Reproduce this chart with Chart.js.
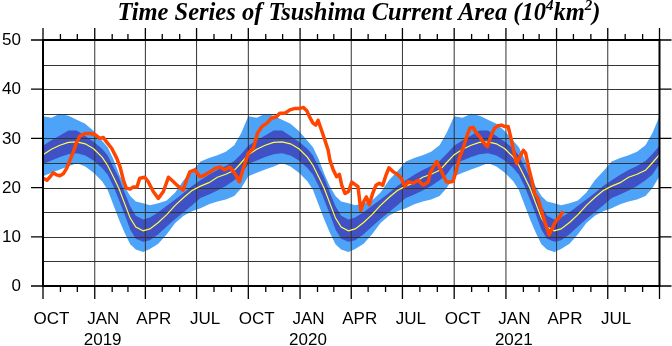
<!DOCTYPE html>
<html><head><meta charset="utf-8">
<script src="https://cdn.jsdelivr.net/npm/chart.js@4/dist/chart.umd.min.js"></script>
<style>html,body{margin:0;padding:0;background:#fff;}#wrap{width:672px;height:346px;}</style>
</head><body><div id="wrap"><canvas id="c" width="672" height="346"></canvas></div>
<script>
// ---- data ----
const startDate = '2018-10-01';
const endDate = '2021-10-01';
// climatology (days after Oct 1), repeated for each year shown
const climYearStarts = ['2018-10-01', '2019-10-01', '2020-10-01'];
const climDays    = [0,15,30,45,60,75,90,105,115,125,135,145,155,165,178,190,205,220,235,250,265,280,295,310,325,340,352];
const climMean    = [26.7,27.8,28.6,29.2,29.3,28.9,27.9,26.2,24.5,22.2,19.8,16.8,13.8,12.0,11.2,11.6,12.9,14.5,16.4,18.0,19.4,20.3,21.0,22.1,22.7,23.5,25.0];
const climDarkLo  = [24.8,25.5,26.2,26.8,27.0,26.5,25.5,24.0,22.6,20.3,17.5,14.6,11.5,9.6,9.0,9.3,10.5,12.1,13.6,15.0,16.4,17.9,18.6,19.4,20.3,21.5,22.6];
const climDarkHi  = [28.5,29.6,30.6,31.6,31.6,30.5,29.3,27.9,26.5,24.2,22.0,19.0,16.2,14.3,13.5,13.9,15.0,16.3,17.6,18.9,20.3,21.5,22.6,23.6,24.4,25.4,26.8];
const climLightLo = [22.3,23.0,23.7,24.3,25.0,24.3,23.0,21.3,19.5,16.5,13.5,10.8,8.5,7.4,6.9,7.5,8.6,10.5,12.8,14.3,15.2,15.8,16.6,17.2,17.6,18.3,19.8];
const climLightHi = [34.5,34.2,35.0,34.6,33.8,33.0,31.5,29.5,28.2,25.8,22.8,20.2,18.3,17.2,16.8,16.4,16.8,17.4,19.0,21.5,23.3,25.3,26.0,26.6,27.3,28.6,31.0];
// observed area (days after 2018-10-01)
const obsDays = [1,7,12,18,24,30,36,42,48,54,60,66,75,84,92,101,107,113,122,131,137,143,148,155,160,167,172,181,187,196,205,214,223,232,238,249,255,261,270,279,288,297,306,315,323,332,341,349,356,
  365,374,381,389,398,406,415,421,430,439,448,457,463,469,475,480,485,489,495,501,507,510,516,522,527,531,537,543,549,554,560,565,570,575,580,586,592,598,604,610,615,623,631,637,643,649,658,667,676,685,688,694,700,706,711,717,723,729,
  735,741,747,753,759,765,771,777,782,790,797,803,809,815,821,827,832,837,842,848,854,858,863,869,874,880,885,889,894,900,904,908,913,918,920,925];
const obsArea = [21.9,21.5,22.1,23.0,22.6,22.4,22.8,23.9,25.6,27.3,29.3,30.5,31.0,31.0,30.8,30.0,30.2,29.3,28.0,26.0,24.2,21.5,19.9,19.7,20.1,20.1,21.9,22.1,21.2,19.2,17.8,19.2,22.1,21.2,20.5,19.5,21.5,23.2,23.6,22.2,22.6,23.2,23.9,24.2,23.6,24.2,22.9,21.2,23.9,
  27.0,28.0,31.0,32.4,33.1,34.1,34.4,35.1,35.1,35.8,36.1,36.1,36.3,35.6,34.1,33.1,32.7,33.7,31.7,29.7,27.6,25.6,23.6,22.2,22.7,20.5,18.8,19.2,21.1,20.7,20.2,15.4,17.1,18.1,16.5,18.8,20.5,20.9,20.5,22.6,24.0,23.2,22.6,21.9,20.2,21.2,20.9,21.5,20.5,21.2,22.9,24.2,25.3,23.9,22.6,21.2,21.1,21.3,
  23.6,26.3,28.0,30.3,32.1,32.2,31.0,30.3,29.3,28.3,30.7,32.1,32.6,32.7,32.4,32.4,30.0,27.3,24.9,26.3,27.6,27.0,24.2,21.5,18.8,17.8,15.8,14.1,12.4,10.4,11.4,12.4,13.4,13.9,14.4,15.2];
// axis labels
const monthTickLabels = ['OCT','JAN','APR','JUL','OCT','JAN','APR','JUL','OCT','JAN','APR','JUL'];
const monthTickDates  = ['2018-10-01','2019-01-01','2019-04-01','2019-07-01','2019-10-01','2020-01-01','2020-04-01','2020-07-01','2020-10-01','2021-01-01','2021-04-01','2021-07-01'];
const yearLabels     = ['2019','2020','2021'];
const yearLabelDates = ['2019-01-01','2020-01-01','2021-01-01'];
const yTickValues = [0,10,20,30,40,50];
const yGridValues = [5,10,15,20,25,30,35,40,45];
const titleParts = [['Time Series of Tsushima Current Area (10',0],['4',1],['km',0],['2',1],[')',0]];

// ---- helpers ----
const DAY = 86400000;
function dayOf(s){ const p=s.split('-').map(Number); const q=startDate.split('-').map(Number);
  return Math.round((Date.UTC(p[0],p[1]-1,p[2]) - Date.UTC(q[0],q[1]-1,q[2]))/DAY); }
const xMax = dayOf(endDate);
function climSeries(arr){
  const pts=[];
  climYearStarts.forEach(ys=>{ const o=dayOf(ys); climDays.forEach((d,i)=>pts.push({x:o+d,y:arr[i]})); });
  pts.push({x:xMax,y:arr[0]});
  return pts;
}
const obsPts = obsDays.map((d,i)=>({x:d,y:obsArea[i]}));

const LIGHT='rgb(77,163,247)', DARK='rgb(63,81,196)';
const FONT='"Liberation Sans", Arial, Helvetica, sans-serif';

const decor = {
  id:'decor',
  afterDatasetDraw(chart, args){
    if(args.index!==2) return;
    const ctx=chart.ctx, a=chart.chartArea, xs=chart.scales.x, ys=chart.scales.y;
    ctx.save(); ctx.strokeStyle='#333'; ctx.lineWidth=1;
    yGridValues.forEach(v=>{ const y=Math.round(ys.getPixelForValue(v))+0.5; ctx.beginPath(); ctx.moveTo(a.left,y); ctx.lineTo(a.right,y); ctx.stroke(); });
    monthTickDates.forEach(d=>{ const x=xs.getPixelForValue(dayOf(d)); if(x<=a.left+1) return; ctx.beginPath(); ctx.moveTo(x,a.top); ctx.lineTo(x,a.bottom); ctx.stroke(); });
    ctx.restore();
  },
  afterDraw(chart){
    const ctx=chart.ctx, a=chart.chartArea, xs=chart.scales.x, ys=chart.scales.y;
    ctx.save();
    ctx.strokeStyle='#000'; ctx.lineWidth=2;
    ctx.strokeRect(a.left,a.top,a.right-a.left,a.bottom-a.top);
    ctx.lineWidth=1.3;
    // y ticks (left & right, outward)
    yTickValues.forEach(v=>{ const y=ys.getPixelForValue(v);
      ctx.beginPath(); ctx.moveTo(a.left-12,y); ctx.lineTo(a.left,y); ctx.moveTo(a.right,y); ctx.lineTo(a.right+12,y); ctx.stroke(); });
    // month ticks
    const s=new Date(Date.UTC(2018,9,1));
    for(let m=0;m<=36;m++){
      const dt=new Date(Date.UTC(2018,9+m,1));
      const x=xs.getPixelForValue(Math.round((dt-s)/DAY));
      const major=(m%3===0);
      const L=major?13:6;
      ctx.beginPath(); ctx.moveTo(x,a.bottom); ctx.lineTo(x,a.bottom+L); ctx.moveTo(x,a.top); ctx.lineTo(x,a.top-(major?12:6)); ctx.stroke();
    }
    // labels
    ctx.fillStyle='#000'; ctx.font='17px '+FONT;
    ctx.textAlign='right'; ctx.textBaseline='middle';
    yTickValues.forEach(v=>ctx.fillText(String(v),21,ys.getPixelForValue(v)+0.5));
    ctx.textAlign='center'; ctx.textBaseline='alphabetic';
    monthTickDates.forEach((d,i)=>{ const x=xs.getPixelForValue(dayOf(d)+15); ctx.fillText(monthTickLabels[i],x,324); });
    yearLabelDates.forEach((d,i)=>{ const x=xs.getPixelForValue(dayOf(d)+14); ctx.fillText(yearLabels[i],x,345); });
    // title with superscripts
    const big='italic bold 24.5px "Liberation Serif", "Times New Roman", serif';
    const small='italic bold 15px "Liberation Serif", "Times New Roman", serif';
    let w=0; titleParts.forEach(p=>{ ctx.font=p[1]?small:big; w+=ctx.measureText(p[0]).width; });
    let x=359-w/2; ctx.textAlign='left';
    titleParts.forEach(p=>{ ctx.font=p[1]?small:big; ctx.fillText(p[0],x,p[1]?10:19.5); x+=ctx.measureText(p[0]).width; });
    ctx.restore();
  }
};

const base={pointRadius:0,pointHoverRadius:0,tension:0};
new Chart(document.getElementById('c').getContext('2d'),{
  type:'line',
  data:{datasets:[
    Object.assign({label:'Observed',data:obsPts,borderColor:'#ff4500',borderWidth:3.5,fill:false,borderJoinStyle:'round'},base),
    Object.assign({label:'Mean',data:climSeries(climMean),borderColor:'#ffff40',borderWidth:1.2,fill:false},base),
    Object.assign({label:'DarkHi',data:climSeries(climDarkHi),borderColor:'rgba(0,0,0,0)',borderWidth:0,backgroundColor:DARK,fill:'+1'},base),
    Object.assign({label:'DarkLo',data:climSeries(climDarkLo),borderColor:'rgba(0,0,0,0)',borderWidth:0,fill:false},base),
    Object.assign({label:'LightHi',data:climSeries(climLightHi),borderColor:'rgba(0,0,0,0)',borderWidth:0,backgroundColor:LIGHT,fill:'+1'},base),
    Object.assign({label:'LightLo',data:climSeries(climLightLo),borderColor:'rgba(0,0,0,0)',borderWidth:0,fill:false},base)
  ]},
  options:{
    responsive:false, animation:false, events:[],
    layout:{padding:{left:43,right:12.5,top:40,bottom:60}},
    scales:{x:{type:'linear',min:0,max:xMax,display:false},y:{min:0,max:50,display:false}},
    plugins:{legend:{display:false},tooltip:{enabled:false},title:{display:false}}
  },
  plugins:[decor]
});
</script></body></html>
